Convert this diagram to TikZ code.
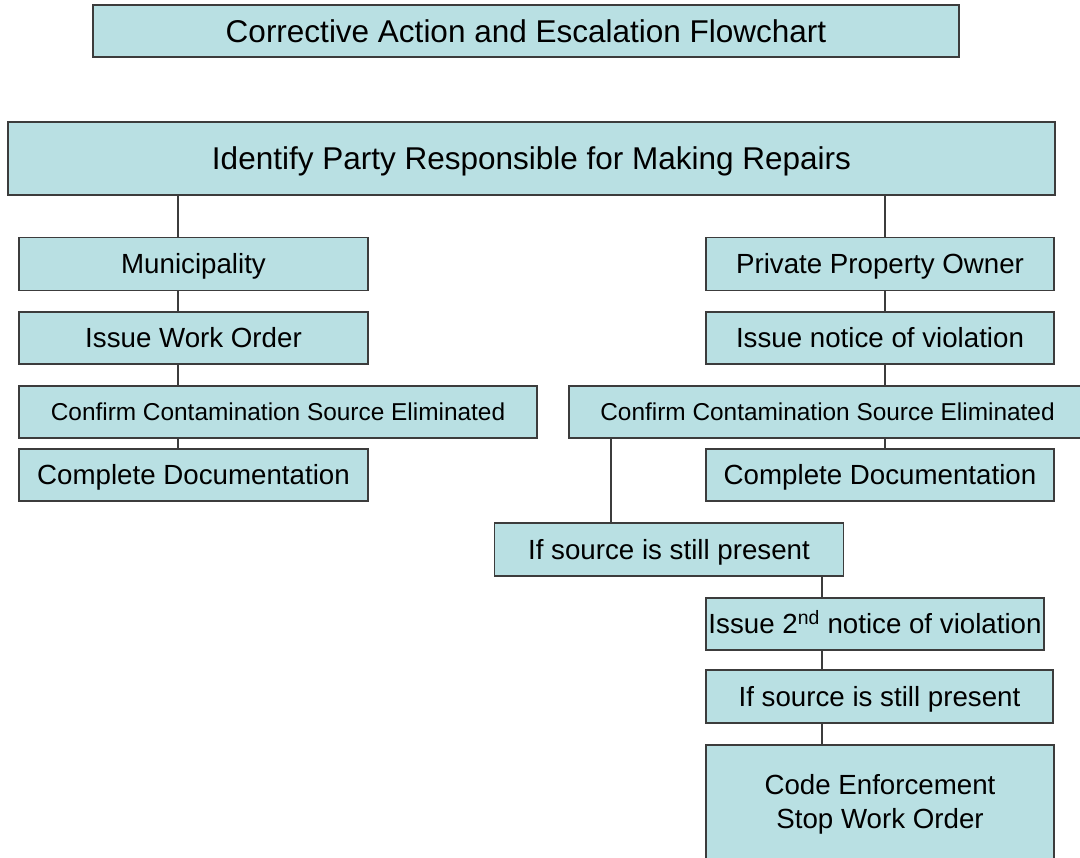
\documentclass[tikz,border=0pt]{standalone}
\usepackage{fontspec}
\setmainfont{Liberation Sans}
\definecolor{boxfill}{RGB}{185,224,227}
\definecolor{boxline}{RGB}{60,60,60}
\begin{document}
\begin{tikzpicture}[x=1pt,y=-1pt,
  box/.style={draw=boxline,fill=boxfill,line width=1.3pt,inner sep=0pt,text=black},
  big/.style={font=\fontsize{31.5}{38}\selectfont,text height=27pt,text depth=4.4pt},
  mid/.style={font=\fontsize{27.7}{34}\selectfont,text height=24pt,text depth=4.2pt},
  small/.style={font=\fontsize{24.4}{29}\selectfont,text height=21pt,text depth=3.5pt},
  twoline/.style={font=\fontsize{27.7}{34}\selectfont,align=center},
  link/.style={draw=boxline,line width=1.1pt}]
\useasboundingbox (0,0) rectangle (1080,858);
\clip (0,0) rectangle (1080,858);
\fill[white] (0,0) rectangle (1080,858);
% nodes
\node[box,big,minimum width=866pt,minimum height=52pt] (title) at (526,31) {Corrective Action and Escalation Flowchart};
\node[box,big,minimum width=1047pt,minimum height=73pt] (ident) at (531.5,158.5) {Identify Party Responsible for Making Repairs};
\node[box,mid,minimum width=349pt,minimum height=53pt] (mun) at (193.5,264) {Municipality};
\node[box,mid,minimum width=349pt,minimum height=52pt] (iwo) at (193.5,338) {Issue Work Order};
\node[box,small,minimum width=518pt,minimum height=52pt] (confL) at (278,412) {Confirm Contamination Source Eliminated};
\node[box,mid,minimum width=349pt,minimum height=52pt] (compL) at (193.5,475) {Complete Documentation};
\node[box,mid,minimum width=348pt,minimum height=53pt] (ppo) at (880,264) {Private Property Owner};
\node[box,mid,minimum width=348pt,minimum height=52pt] (isn) at (880,338) {Issue notice of violation};
\node[box,small,minimum width=517pt,minimum height=52pt] (confR) at (827.5,412) {Confirm Contamination Source Eliminated};
\node[box,mid,minimum width=348pt,minimum height=52pt] (compR) at (880,475) {Complete Documentation};
\node[box,mid,minimum width=349pt,minimum height=53pt] (ifA) at (669,549.5) {If source is still present};
\node[box,mid,minimum width=338pt,minimum height=52pt] (iss2) at (875,624) {Issue 2\textsuperscript{nd} notice of violation};
\node[box,mid,minimum width=347pt,minimum height=53pt] (ifB) at (879.5,696.5) {If source is still present};
\node[box,twoline,minimum width=348pt,minimum height=118pt] (code) at (880,804) {Code Enforcement\\Stop Work Order};
% connector columns
\coordinate (cl) at (178,0);
\coordinate (cr) at (885,0);
\coordinate (cm) at (611,0);
\coordinate (cs) at (822,0);
% connectors
\draw[link] (ident.south -| cl) -- (mun.north -| cl);
\draw[link] (mun.south -| cl) -- (iwo.north -| cl);
\draw[link] (iwo.south -| cl) -- (confL.north -| cl);
\draw[link] (confL.south -| cl) -- (compL.north -| cl);
\draw[link] (ident.south -| cr) -- (ppo.north -| cr);
\draw[link] (ppo.south -| cr) -- (isn.north -| cr);
\draw[link] (isn.south -| cr) -- (confR.north -| cr);
\draw[link] (confR.south -| cr) -- (compR.north -| cr);
\draw[link] (confR.south -| cm) -- (ifA.north -| cm);
\draw[link] (ifA.south -| cs) -- (iss2.north -| cs);
\draw[link] (iss2.south -| cs) -- (ifB.north -| cs);
\draw[link] (ifB.south -| cs) -- (code.north -| cs);
\end{tikzpicture}
\end{document}
